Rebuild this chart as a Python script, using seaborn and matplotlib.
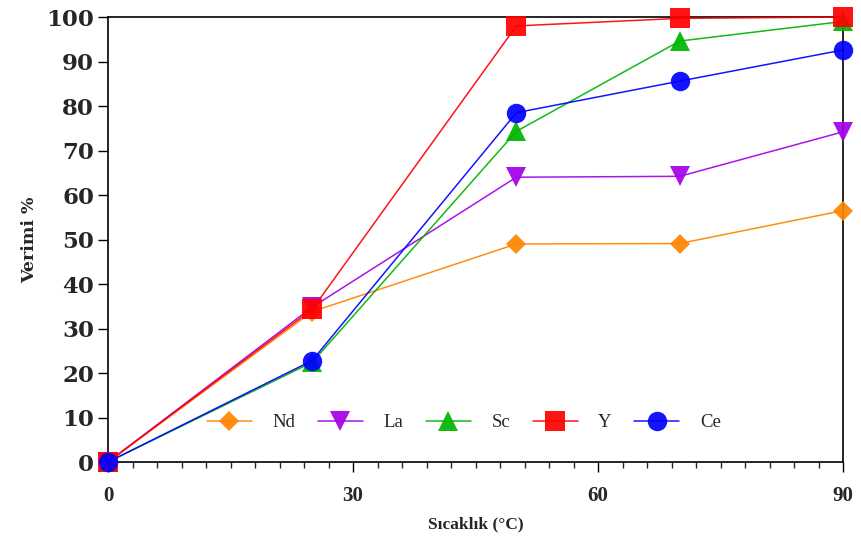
import pandas as pd
import seaborn as sns
import matplotlib.pyplot as plt
from matplotlib.ticker import MultipleLocator
from matplotlib.font_manager import FontProperties

# values
temps = [0, 25, 50, 70, 90]
nd = [0, 33.8, 49.0, 49.1, 56.5]
la = [0, 34.8, 64.0, 64.2, 74.2]
sc = [0, 22.4, 74.3, 94.6, 99.0]
y_ = [0, 34.3, 98.0, 99.7, 100.0]
ce = [0, 22.8, 78.5, 85.6, 92.6]
metals = ['Nd', 'La', 'Sc', 'Y', 'Ce']

sns.set_style("ticks")
plt.rcParams['font.family'] = ['Liberation Serif', 'DejaVu Serif']

rows = []
for name, vals in zip(metals, [nd, la, sc, y_, ce]):
    for t, v in zip(temps, vals):
        rows.append({'Sıcaklık': t, 'Verim': v, 'Metal': name})
data = pd.DataFrame(rows)

palette = {'Nd': '#ff8400', 'La': '#a400e8', 'Sc': '#00b400', 'Y': '#ff0000', 'Ce': '#0000ff'}
markers = {'Nd': 'D', 'La': 'v', 'Sc': '^', 'Y': 's', 'Ce': 'o'}
sizes = {'Nd': 10.5, 'La': 14, 'Sc': 14, 'Y': 14, 'Ce': 14}

fig = plt.figure(figsize=(8.62, 5.42), dpi=100)
ax = fig.add_axes([0.1253, 0.1476, 0.8527, 0.821])

for name in metals:
    sub = data[data['Metal'] == name]
    sns.lineplot(data=sub, x='Sıcaklık', y='Verim', ax=ax, color=palette[name],
                 marker=markers[name], markersize=sizes[name], markeredgewidth=0,
                 linewidth=1.1, alpha=0.92, label=name, clip_on=False, zorder=3)

ax.set_xlim(0, 90)
ax.set_ylim(0, 100)
ax.xaxis.set_minor_locator(MultipleLocator(3))
ax.tick_params(axis='both', which='major', direction='out', length=7, width=1, color='black')
ax.tick_params(axis='x', which='minor', direction='out', length=4, width=1)
ax.tick_params(axis='x', pad=10)
ax.tick_params(axis='y', pad=3)

xfont = FontProperties(family='Liberation Serif', weight='bold', size=15)
yfont = FontProperties(family='DejaVu Serif', weight='bold', size=16.5)
ax.set_xticks([0, 30, 60, 90])
ax.set_xticklabels(['0', '30', '60', '90'], fontproperties=xfont)
ax.set_yticks(range(0, 101, 10))
ax.set_yticklabels([str(v) for v in range(0, 101, 10)], fontproperties=yfont)

for sp in ax.spines.values():
    sp.set_color('black')
    sp.set_linewidth(1.2)
    sp.set_visible(True)

ax.set_xlabel('Sıcaklık (°C)', fontsize=12.5, fontweight='bold', labelpad=8)
ax.set_ylabel('Verimi %', fontproperties=FontProperties(family='DejaVu Serif', weight='bold', size=12.5),
              labelpad=6)

ax.legend(loc='center', bbox_to_anchor=(0.484, 0.088), ncol=5, frameon=False,
          fontsize=13.5, handlelength=2.4, handletextpad=1.1, columnspacing=1.2)

plt.savefig('out.png', dpi=100)
